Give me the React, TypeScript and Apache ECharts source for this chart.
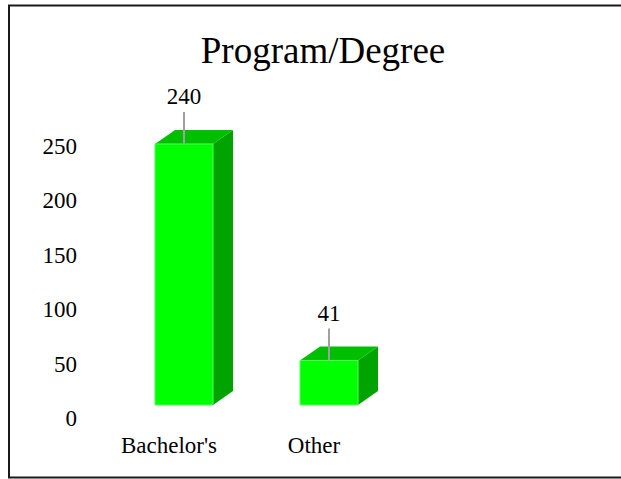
import React, { useEffect, useRef } from "react";
import * as echarts from "echarts";

const categories = ["Bachelor's", "Other"];
const values = [240, 41];
const yTicks = [0, 50, 100, 150, 200, 250];
const titleText = "Program/Degree";

const FONT = "Liberation Serif";

export default function App() {
  const ref = useRef<HTMLDivElement>(null);
  useEffect(() => {
    if (!ref.current) return;
    const chart = echarts.init(ref.current, undefined, { renderer: "svg" });
    const frontLeft = -14;
    const frontRight = 44;
    const dx = 20;
    const dy = -14;
    chart.setOption({
      animation: false,
      backgroundColor: "#ffffff",
      textStyle: { fontFamily: FONT },
      title: {
        text: titleText,
        left: 318,
        top: 27,
        textAlign: "center",
        textStyle: { fontFamily: FONT, fontSize: 37, fontWeight: "normal", color: "#000" },
      },
      graphic: [
        {
          type: "polyline",
          shape: { points: [[720, 5.5], [9, 5.5], [9, 477.5], [720, 477.5]] },
          style: { fill: "none", stroke: "#1a1a1a", lineWidth: 2 },
          silent: true,
        },
      ],
      grid: [
        { left: 96.5, width: 290, top: 133.1, bottom: 74 },
        { left: 96.5, width: 290, top: 146.6, bottom: 60.5 },
      ],
      xAxis: [
        {
          type: "category",
          data: categories,
          gridIndex: 0,
          axisLine: { show: false },
          axisTick: { show: false },
          axisLabel: { margin: 29, fontFamily: FONT, fontSize: 23, color: "#000" },
        },
        { type: "category", data: categories, gridIndex: 1, show: false },
      ],
      yAxis: [
        {
          type: "value",
          gridIndex: 0,
          min: yTicks[0],
          max: yTicks[yTicks.length - 1],
          interval: 50,
          show: false,
          splitLine: { show: false },
        },
        {
          type: "value",
          gridIndex: 1,
          min: yTicks[0],
          max: yTicks[yTicks.length - 1],
          interval: 50,
          axisLine: { show: false },
          axisTick: { show: false },
          splitLine: { show: false },
          axisLabel: { margin: 19.5, fontFamily: FONT, fontSize: 23, color: "#000" },
        },
      ],
      series: [
        {
          type: "custom",
          xAxisIndex: 0,
          yAxisIndex: 0,
          data: values.map((v, i) => [i, v]),
          renderItem: (params: any, api: any) => {
            const top = api.coord([api.value(0), api.value(1)]);
            const base = api.coord([api.value(0), 0]);
            const cx = top[0];
            const l = cx + frontLeft;
            const r = cx + frontRight;
            const t = top[1];
            const b = base[1];
            const mid = (l + r) / 2;
            return {
              type: "group",
              children: [
                {
                  type: "polygon",
                  shape: { points: [[r, t], [r + dx, t + dy], [r + dx, b + dy], [r, b]] },
                  style: { fill: "#00a300" },
                },
                {
                  type: "polygon",
                  shape: { points: [[l, t], [l + dx, t + dy], [r + dx, t + dy], [r, t]] },
                  style: { fill: "#00bf00" },
                },
                {
                  type: "rect",
                  shape: { x: l, y: t, width: r - l, height: b - t },
                  style: { fill: "#00ff00", stroke: "#55ff55", lineWidth: 1 },
                },
                {
                  type: "line",
                  shape: { x1: mid, y1: t - 32, x2: mid, y2: t },
                  style: { stroke: "#a0a0a0", lineWidth: 2 },
                },
                {
                  type: "text",
                  style: {
                    text: String(api.value(1)),
                    x: mid,
                    y: t - 47,
                    align: "center",
                    verticalAlign: "middle",
                    fontFamily: FONT,
                    fontSize: 23,
                    fill: "#000",
                  },
                },
              ],
            };
          },
        },
      ],
    });
    return () => chart.dispose();
  }, []);
  return (
    <div
      ref={ref}
      style={{ position: "absolute", left: 0, top: 0, width: 621, height: 479 }}
    />
  );
}
